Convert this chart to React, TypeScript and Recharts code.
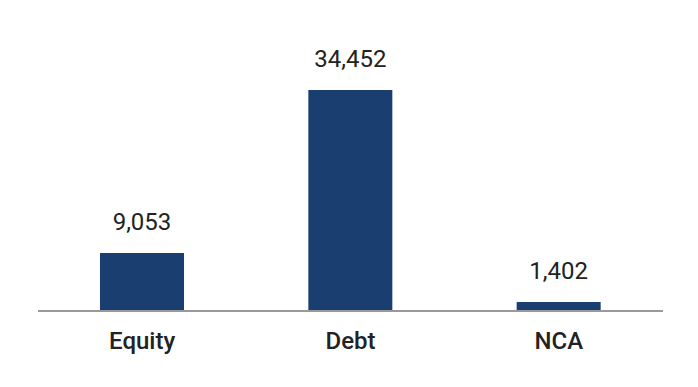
import { BarChart, Bar, XAxis, YAxis, LabelList } from 'recharts'

const categories = ['Equity', 'Debt', 'NCA']
const values = [9053, 34452, 1402]

const data = categories.map((name, i) => ({ name, value: values[i] }))

const fmt = (v: number) => v.toLocaleString('en-US')

export default function App() {
  return (
    <div style={{ position: 'absolute', left: 0, top: 0, background: '#fff' }}>
      <BarChart
        width={698}
        height={387}
        data={data}
        margin={{ top: 90, right: 35, bottom: 16, left: 38 }}
        barCategoryGap={62}
      >
        <XAxis
          dataKey="name"
          height={60}
          tickLine={false}
          tickMargin={15}
          axisLine={{ stroke: '#999', strokeWidth: 2 }}
          tick={{ fontFamily: 'Roboto', fontSize: 24, fontWeight: 500, fill: '#222' }}
        />
        <YAxis hide domain={[0, 34452]} />
        <Bar dataKey="value" fill="#1a3e70" isAnimationActive={false}>
          <LabelList
            dataKey="value"
            position="top"
            offset={23}
            formatter={(v: any) => fmt(Number(v))}
            style={{ fontFamily: 'Roboto', fontSize: 24, fill: '#222' }}
          />
        </Bar>
      </BarChart>
    </div>
  )
}
